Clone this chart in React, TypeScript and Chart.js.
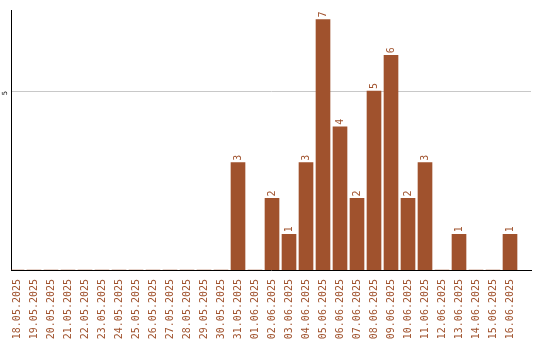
import React, { useEffect, useRef } from "react";
import { Chart, registerables } from "chart.js";

Chart.register(...registerables);

const categories = [
  "18.05.2025", "19.05.2025", "20.05.2025", "21.05.2025", "22.05.2025",
  "23.05.2025", "24.05.2025", "25.05.2025", "26.05.2025", "27.05.2025",
  "28.05.2025", "29.05.2025", "30.05.2025", "31.05.2025", "01.06.2025",
  "02.06.2025", "03.06.2025", "04.06.2025", "05.06.2025", "06.06.2025",
  "07.06.2025", "08.06.2025", "09.06.2025", "10.06.2025", "11.06.2025",
  "12.06.2025", "13.06.2025", "14.06.2025", "15.06.2025", "16.06.2025",
];

const values = [
  0, 0, 0, 0, 0,
  0, 0, 0, 0, 0,
  0, 0, 0, 3, 0,
  2, 1, 3, 7, 4,
  2, 5, 6, 2, 3,
  0, 1, 0, 0, 1,
];

const yTicks = [5];

const BAR = "#A0522D";
const MONO = "'DejaVu Sans Mono', monospace";

const valueLabels = {
  id: "valueLabels",
  afterDatasetsDraw(chart: any) {
    const ctx = chart.ctx;
    const meta = chart.getDatasetMeta(0);
    ctx.save();
    ctx.fillStyle = BAR;
    ctx.font = `10px ${MONO}`;
    ctx.textAlign = "left";
    ctx.textBaseline = "middle";
    meta.data.forEach((bar: any, i: number) => {
      const v = values[i];
      if (!v) return;
      ctx.save();
      ctx.translate(bar.x, bar.y - 2);
      ctx.rotate(-Math.PI / 2);
      ctx.fillText(String(v), 0, 0);
      ctx.restore();
    });
    ctx.restore();
  },
};

export default function App() {
  const ref = useRef<HTMLCanvasElement>(null);
  useEffect(() => {
    document.body.style.margin = "0";
    const chart = new Chart(ref.current!, {
      type: "bar",
      data: {
        datasets: [
          {
            data: values.map((v, i) => ({ x: i, y: v })),
            backgroundColor: BAR,
            borderWidth: 0,
            barThickness: 14,
          },
        ],
      },
      options: {
        animation: false,
        responsive: false,
        maintainAspectRatio: false,
        layout: { padding: { top: 10, right: 9, left: 0, bottom: 0 } },
        plugins: { legend: { display: false }, tooltip: { enabled: false } },
        scales: {
          x: {
            type: "linear",
            offset: false,
            min: -0.353,
            max: 30.235,
            grid: { display: false },
            border: { display: true, color: "#000", width: 1 },
            ticks: {
              color: BAR,
              font: { family: MONO, size: 10 },
              minRotation: 90,
              maxRotation: 90,
              autoSkip: false,
              padding: 1,
              callback: (v: any) => categories[v] ?? "",
            },
            afterBuildTicks(scale: any) {
              scale.ticks = categories.map((_, i) => ({ value: i }));
            },
            afterFit(scale: any) {
              scale.height = 70;
            },
          },
          y: {
            min: 0,
            max: 7.26,
            grid: { color: "#c8c8c8", drawTicks: false },
            border: { display: true, color: "#000", width: 1 },
            ticks: {
              color: "#000",
              font: { family: MONO, size: 7 },
              minRotation: 90,
              maxRotation: 90,
              padding: 6,
            },
            afterBuildTicks(scale: any) {
              scale.ticks = yTicks.map((v) => ({ value: v }));
            },
            afterFit(scale: any) {
              scale.width = 11;
            },
          },
        },
      },
      plugins: [valueLabels],
    });
    return () => chart.destroy();
  }, []);
  return <canvas ref={ref} width={540} height={340} style={{ display: "block" }} />;
}
